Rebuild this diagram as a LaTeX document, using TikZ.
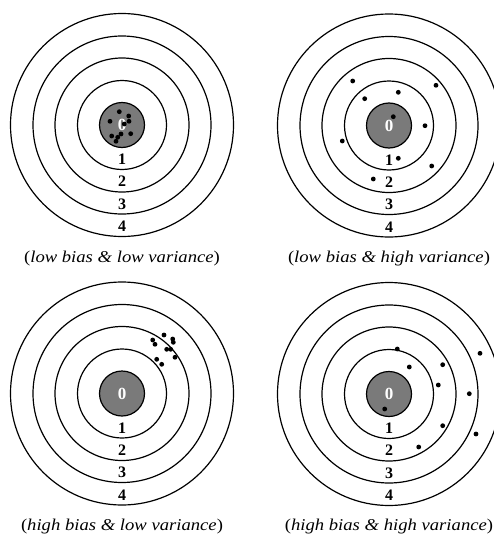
\documentclass[tikz,border=0pt]{standalone}
\usepackage{fontspec}
\setmainfont{Liberation Serif}
\newfontfamily\capfont[FakeStretch=1.13]{Liberation Serif}
\begin{document}
\begin{tikzpicture}[x=1pt,y=-1pt,
  ring/.style={draw=black,line width=1.2pt},
  eye/.style={draw=black,fill=black!52,line width=1.2pt},
  ringnum/.style={font=\fontsize{16}{17}\selectfont\bfseries,inner sep=0pt},
  eyenum/.style={text=white,font=\fontsize{17}{18}\selectfont\bfseries,inner sep=0pt},
  caption/.style={font=\capfont\fontsize{16.5}{18}\selectfont,anchor=base,inner sep=0pt},
  shot/.style={fill=black},
  target/.pic={
    \foreach \r in {111.5,89,67,44.5} \draw[ring] (0,0) circle[radius=\r];
    \draw[eye] (0,0) circle[radius=22.5];
    \node[eyenum]  (-zero)  at (0,0)     {0};
    \node[ringnum] (-one)   at (0,34.5)  {1};
    \node[ringnum] (-two)   at (0,56.5)  {2};
    \node[ringnum] (-three) at (0,79)    {3};
    \node[ringnum] (-four)  at (0,101.5) {4};
  }]
\useasboundingbox (0,0) rectangle (494,535);
\clip (0,0) rectangle (494,535);

% the four targets
\pic (tl) at (122,125)   {target};
\pic (tr) at (389,125.5) {target};
\pic (bl) at (122,393.5) {target};
\pic (br) at (389,394)   {target};

% shots: low bias, low variance
\foreach \p in {(119.3,111.7),(128.7,116),(110,121.3),(129,121.3),(124.3,124),
                (121,134),(130.7,133.7),(111.7,136),(117.7,137.3),(116,141.3)}
  \fill[shot] \p circle[radius=2.4];
% shots: low bias, high variance
\foreach \p in {(352.7,81),(436,85.3),(398.3,92.3),(364.7,98.7),(393.3,116.7),
                (425,125.7),(342.3,141),(398.3,158.3),(431.7,166),(373.3,179)}
  \fill[shot] \p circle[radius=2.4];
% shots: high bias, low variance
\foreach \p in {(164,335),(152.7,340),(155,344.3),(172.7,339),(173.3,342.3),
                (166.7,349.3),(170.7,349.3),(175,357.3),(156.7,359.3),(161.7,364.3)}
  \fill[shot] \p circle[radius=2.4];
% shots: high bias, high variance
\foreach \p in {(397.3,349),(480,353.3),(409.3,367),(442.7,364.7),(438.3,385),
                (469.3,393.7),(384.7,409),(442.7,425.7),(476,434),(418.7,447)}
  \fill[shot] \p circle[radius=2.4];

% captions
\node[caption] (captl) at (122,262) {(\textit{low bias \& low variance})};
\node[caption] (captr) at (389,262) {(\textit{low bias \& high variance})};
\node[caption] (capbl) at (122,530) {(\textit{high bias \& low variance})};
\node[caption] (capbr) at (389,530) {(\textit{high bias \& high variance})};
\end{tikzpicture}
\end{document}
